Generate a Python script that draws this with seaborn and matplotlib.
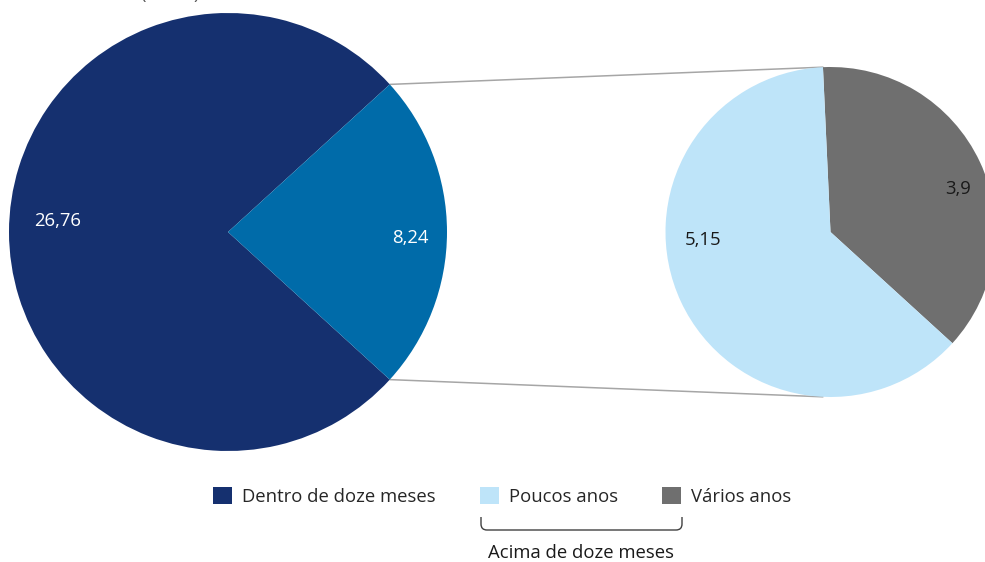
import numpy as np
import matplotlib.pyplot as plt
from matplotlib.path import Path
from matplotlib.patches import PathPatch
import seaborn as sns

# main pie: within / above twelve months
main_labels = ["Dentro de doze meses", "Acima de doze meses"]
main_values = [26.76, 8.24]
main_text = ["26,76", "8,24"]

# secondary pie: split of "Acima de doze meses" (3,9 is how the source prints it)
sub_labels = ["Vários anos", "Poucos anos"]
sub_values = [3.09, 5.15]
sub_text = ["3,9", "5,15"]

group_label = "Acima de doze meses"
unit_label = "(Em %)"

navy = "#15306F"
blue = "#006BA9"
light = "#BEE4F9"
grey = "#6F6F6F"
fs = 13.3

sns.set_theme(style="white")
plt.rcParams["font.family"] = ["Open Sans", "DejaVu Sans"]

fig = plt.figure(figsize=(9.85, 5.62), dpi=100)
ax = fig.add_axes([0, 0, 1, 1])

c1, r1 = (228, 330), 219
c2, r2 = (830.5, 330), 165

half = main_values[1] / sum(main_values) * 360 / 2

w1, t1 = ax.pie(main_values, labels=main_text, colors=[navy, blue],
                startangle=half, center=c1, radius=r1,
                wedgeprops=dict(linewidth=0),
                textprops=dict(color="white", fontsize=fs))
w2, t2 = ax.pie(sub_values, labels=sub_text, colors=[grey, light],
                startangle=-half, center=c2, radius=r2,
                wedgeprops=dict(linewidth=0),
                textprops=dict(color="#1a1a1a", fontsize=fs))

# label placement (fraction of radius from centre)
offs1 = [(-0.779, 0.050), (0.833, -0.027)]
offs2 = [(0.773, 0.261), (-0.773, -0.048)]
for t, (ox, oy) in zip(t1, offs1):
    t.set_position((c1[0] + r1 * ox, c1[1] + r1 * oy))
    t.set_ha("center"); t.set_va("center")
for t, (ox, oy) in zip(t2, offs2):
    t.set_position((c2[0] + r2 * ox, c2[1] + r2 * oy))
    t.set_ha("center"); t.set_va("center")

ax.set_xlim(0, 985)
ax.set_ylim(0, 562)
ax.axis("off")

# connector lines between the pies
a1 = np.deg2rad(w1[1].theta2)
a2 = np.deg2rad(w2[0].theta2)
for s in (1, -1):
    ax.plot([c1[0] + r1 * np.cos(a1), c2[0] + r2 * np.cos(a2)],
            [c1[1] + s * r1 * np.sin(a1), c2[1] + s * r2 * np.sin(a2)],
            color="#A6A6A6", lw=1.1, zorder=0)

px = fs * 100 / 72
fig.legend(handles=[w1[0], w2[1], w2[0]],
           labels=[main_labels[0], sub_labels[1], sub_labels[0]],
           ncol=3, loc="upper left", bbox_to_anchor=(213 / 985, 1 - 487 / 562),
           frameon=False, fontsize=fs, handlelength=19 / px, handleheight=19 / px,
           handletextpad=10 / px, columnspacing=44 / px, borderpad=0, borderaxespad=0)

# bracket under the two sub-categories
x0, x1, yt, yb, rr = 481, 682, 562 - 517, 562 - 530, 6
verts = [(x0, yt), (x0, yb + rr), (x0, yb), (x0 + rr, yb),
         (x1 - rr, yb), (x1, yb), (x1, yb + rr), (x1, yt)]
codes = [Path.MOVETO, Path.LINETO, Path.CURVE3, Path.CURVE3,
         Path.LINETO, Path.CURVE3, Path.CURVE3, Path.LINETO]
ax.add_patch(PathPatch(Path(verts, codes), fill=False, edgecolor="#404040", lw=1))
ax.text(581, 562 - 553, group_label, ha="center", va="center", fontsize=fs, color="#1a1a1a")

# unit note, cut by the top edge as in the source
ax.text(170, 563, unit_label, ha="center", va="baseline", fontsize=fs, color="#595959")

fig.savefig("out.png", dpi=100)
